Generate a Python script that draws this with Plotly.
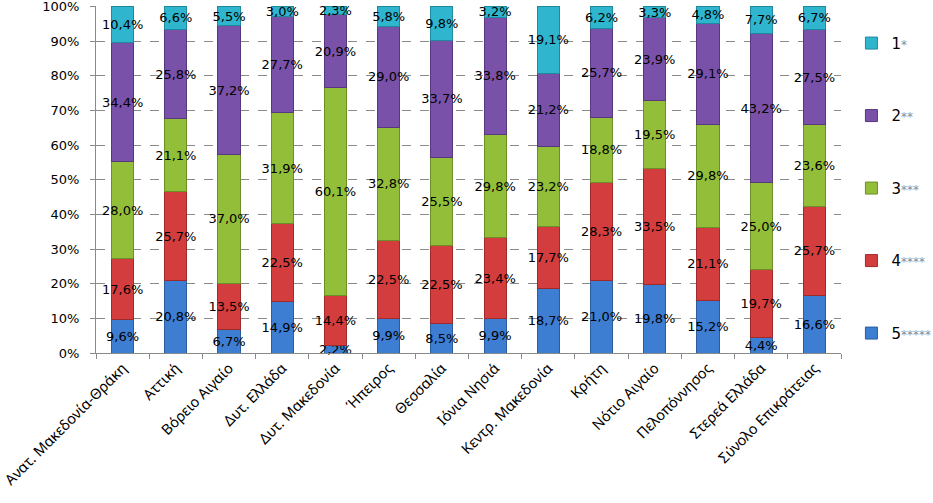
import plotly.graph_objects as go

categories = ["Ανατ. Μακεδονία-Θράκη", "Αττική", "Βόρειο Αιγαίο", "Δυτ. Ελλάδα",
              "Δυτ. Μακεδονία", "Ήπειρος", "Θεσσαλία", "Ιόνια Νησιά",
              "Κεντρ. Μακεδονία", "Κρήτη", "Νότιο Αιγαίο", "Πελοπόννησος",
              "Στερεά Ελλάδα", "Σύνολο Επικράτειας"]

five_star = [9.6, 20.8, 6.7, 14.9, 2.2, 9.9, 8.5, 9.9, 18.7, 21.0, 19.8, 15.2, 4.4, 16.6]
four_star = [17.6, 25.7, 13.5, 22.5, 14.4, 22.5, 22.5, 23.4, 17.7, 28.3, 33.5, 21.1, 19.7, 25.7]
three_star = [28.0, 21.1, 37.0, 31.9, 60.1, 32.8, 25.5, 29.8, 23.2, 18.8, 19.5, 29.8, 25.0, 23.6]
two_star = [34.4, 25.8, 37.2, 27.7, 20.9, 29.0, 33.7, 33.8, 21.2, 25.7, 23.9, 29.1, 43.2, 27.5]
one_star = [10.4, 6.6, 5.5, 3.0, 2.3, 5.8, 9.8, 3.2, 19.1, 6.2, 3.3, 4.8, 7.7, 6.7]

y_ticks = [0, 10, 20, 30, 40, 50, 60, 70, 80, 90, 100]
y_tick_labels = [f"{v}%" for v in y_ticks]

def star_label(num, n):
    return f"{num}<span style='color:#8c8c8c;font-size:12px'>{'*' * n}</span>"

series = [
    (star_label(5, 5), five_star, "#3D7ED2", "#2B5C9E", 5),
    (star_label(4, 4), four_star, "#D43D3D", "#9E2A2A", 4),
    (star_label(3, 3), three_star, "#93BE3A", "#6C8E27", 3),
    (star_label(2, 2), two_star, "#7A51A8", "#563780", 2),
    (star_label(1, 1), one_star, "#2FB5CD", "#1F8A9E", 1),
]

fig = go.Figure()
for i, (name, vals, col, edge, rank) in enumerate(series):
    fig.add_trace(go.Bar(
        x=categories, y=vals, name=name,
        legendgroup=f"g{i}", legendrank=rank,
        marker=dict(color=col, line=dict(color=edge, width=1)),
        text=[f"{v:.1f}%".replace(".", ",") for v in vals],
        textposition="inside", insidetextanchor="middle",
        textangle=0, constraintext="none",
        textfont=dict(family="DejaVu Sans", size=13, color="black"),
        cliponaxis=False,
        hoverinfo="skip",
    ))

fig.update_layout(
    barmode="stack",
    bargap=0.585,
    width=933, height=503,
    margin=dict(l=96, r=92, t=6, b=150, autoexpand=False),
    plot_bgcolor="white", paper_bgcolor="white",
    font=dict(family="DejaVu Sans", size=13, color="black"),
    showlegend=True,
    legend=dict(
        x=1.014, y=0.94, xanchor="left", yanchor="top",
        traceorder="grouped", tracegroupgap=50,
        font=dict(family="DejaVu Sans", size=15, color="black"),
        itemwidth=30,
    ),
)

fig.update_yaxes(
    range=[0, 100.16], tickvals=y_ticks, ticktext=y_tick_labels,
    showgrid=True, gridcolor="#8a8a8a", griddash="dash", gridwidth=1,
    showline=True, linecolor="#8a8a8a", linewidth=1,
    ticks="outside", ticklen=5, tickcolor="#8a8a8a",
    ticklabelstandoff=8, automargin=False, ticklabeloverflow="allow",
    tickfont=dict(family="DejaVu Sans", size=13, color="black"),
    zeroline=False,
)
fig.update_xaxes(
    showline=True, linecolor="#8a8a8a", linewidth=1,
    ticks="outside", ticklen=5, tickcolor="#8a8a8a",
    tickson="boundaries", tickangle=-45, automargin=False,
    tickfont=dict(family="Noto Sans", size=14.5, color="black"),
    showgrid=False,
)

fig.write_html("out.html", config={"displayModeBar": False},
               post_script="document.body.style.margin='0';document.body.style.overflow='hidden';")
